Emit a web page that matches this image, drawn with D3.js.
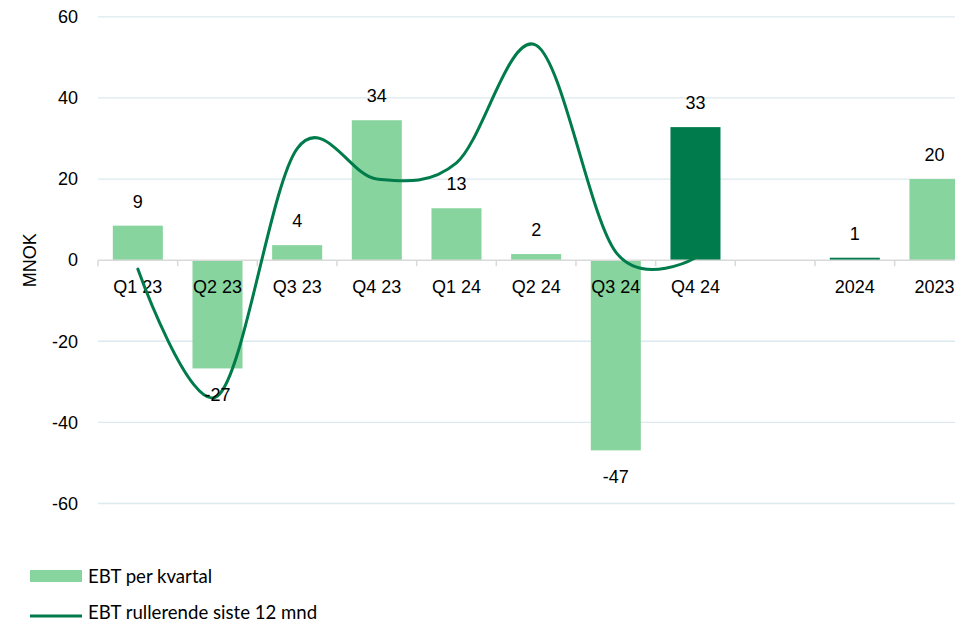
<!DOCTYPE html>
<html>
<head>
<meta charset="utf-8">
<script src="https://cdn.jsdelivr.net/npm/d3@7"></script>
<style>
  html, body { margin: 0; padding: 0; background: #fff; }
  svg { display: block; }
</style>
</head>
<body>
<svg id="chart" width="955" height="623"></svg>
<script>
// ---- data ----
const categories = ["Q1 23", "Q2 23", "Q3 23", "Q4 23", "Q1 24", "Q2 24", "Q3 24", "Q4 24", "", "2024", "2023"];
const quarterlyEBT = [8.5, -26.7, 3.7, 34.5, 12.8, 1.5, -46.9, 32.8, null, 0.6, 20.0];
const barLabels = ["9", "-27", "4", "34", "13", "2", "-47", "33", "", "1", "20"];
const highlighted = [false, false, false, false, false, false, false, true, false, true, false];
const rollingCategories = ["Q1 23", "Q2 23", "Q3 23", "Q4 23", "Q1 24", "Q2 24", "Q3 24", "Q4 24"];
const rolling12m = [-2.2, -33.5, 27.5, 20, 24, 53, 2, 0.6];
const yTicks = [-60, -40, -20, 0, 20, 40, 60];
const legendLabels = ["EBT per kvartal", "EBT rullerende siste 12 mnd"];

// ---- styles ----
const lightGreen = "#88d49e";
const darkGreen = "#007b4b";
const gridColor = "#dce9ee";
const axisColor = "#d9d9d9";
const font = "'Liberation Sans', Arial, sans-serif";

const svg = d3.select("#chart");
const keys = categories.map((c, i) => i);

const x = d3.scaleBand().domain(keys).range([98, 974.3]).paddingInner(0).paddingOuter(0);
const y = d3.scaleLinear().domain([-60, 60]).range([503.5, 16.8]);
const barW = x.bandwidth() * 0.628;

// gridlines
svg.append("g").selectAll("line").data(yTicks.filter(t => t !== 0)).join("line")
  .attr("x1", 98).attr("x2", 975)
  .attr("y1", d => y(d)).attr("y2", d => y(d))
  .attr("stroke", gridColor).attr("stroke-width", 1.3);

// y tick labels
svg.append("g").selectAll("text").data(yTicks).join("text")
  .attr("x", 78).attr("y", d => y(d))
  .attr("dy", "0.35em")
  .attr("text-anchor", "end")
  .attr("font-family", font).attr("font-size", 18).attr("fill", "#000")
  .text(d => d);

// y axis title
svg.append("text")
  .attr("transform", `translate(36,${y(0)}) rotate(-90)`)
  .attr("text-anchor", "middle")
  .attr("font-family", font).attr("font-size", 18).attr("fill", "#000")
  .text("MNOK");

// bars
const barData = keys.filter(i => quarterlyEBT[i] !== null);
svg.append("g").selectAll("rect").data(barData).join("rect")
  .attr("x", i => x(i) + (x.bandwidth() - barW) / 2)
  .attr("width", barW)
  .attr("y", i => y(Math.max(0, quarterlyEBT[i])))
  .attr("height", i => Math.abs(y(quarterlyEBT[i]) - y(0)))
  .attr("fill", i => highlighted[i] ? darkGreen : lightGreen);

// zero axis line + ticks
svg.append("line")
  .attr("x1", 98).attr("x2", 975).attr("y1", y(0)).attr("y2", y(0))
  .attr("stroke", axisColor).attr("stroke-width", 1.5);
svg.append("g").selectAll("line").data(keys).join("line")
  .attr("x1", i => x(i)).attr("x2", i => x(i))
  .attr("y1", y(0)).attr("y2", y(0) + 6)
  .attr("stroke", axisColor).attr("stroke-width", 1.5);

// category labels
svg.append("g").selectAll("text").data(keys).join("text")
  .attr("x", i => x(i) + x.bandwidth() / 2)
  .attr("y", y(0) + 33)
  .attr("text-anchor", "middle")
  .attr("font-family", font).attr("font-size", 18).attr("fill", "#000")
  .text(i => categories[i]);

// rolling line
const lineGen = d3.line()
  .x((d, i) => x(categories.indexOf(rollingCategories[i])) + x.bandwidth() / 2)
  .y(d => y(d))
  .curve(d3.curveCardinal.tension(0));
svg.append("path")
  .datum(rolling12m)
  .attr("d", lineGen)
  .attr("fill", "none")
  .attr("stroke", darkGreen)
  .attr("stroke-width", 3)
  .attr("stroke-linecap", "round");

// bar labels
svg.append("g").selectAll("text").data(barData).join("text")
  .attr("x", i => x(i) + x.bandwidth() / 2)
  .attr("y", i => quarterlyEBT[i] >= 0 ? y(quarterlyEBT[i]) - 18 : y(quarterlyEBT[i]) + 33)
  .attr("text-anchor", "middle")
  .attr("font-family", font).attr("font-size", 18).attr("fill", "#000")
  .text(i => barLabels[i]);

// legend
const legendFont = "Lato, 'Open Sans', sans-serif";
svg.append("rect").attr("x", 30).attr("y", 570).attr("width", 52).attr("height", 12).attr("fill", lightGreen);
svg.append("text").attr("x", 88).attr("y", 583)
  .attr("font-family", legendFont).attr("font-size", 18.6).attr("fill", "#000")
  .text(legendLabels[0]);
svg.append("line").attr("x1", 30).attr("x2", 82).attr("y1", 616).attr("y2", 616)
  .attr("stroke", darkGreen).attr("stroke-width", 3);
svg.append("text").attr("x", 88).attr("y", 619)
  .attr("font-family", legendFont).attr("font-size", 18.6).attr("fill", "#000")
  .text(legendLabels[1]);
</script>
</body>
</html>
